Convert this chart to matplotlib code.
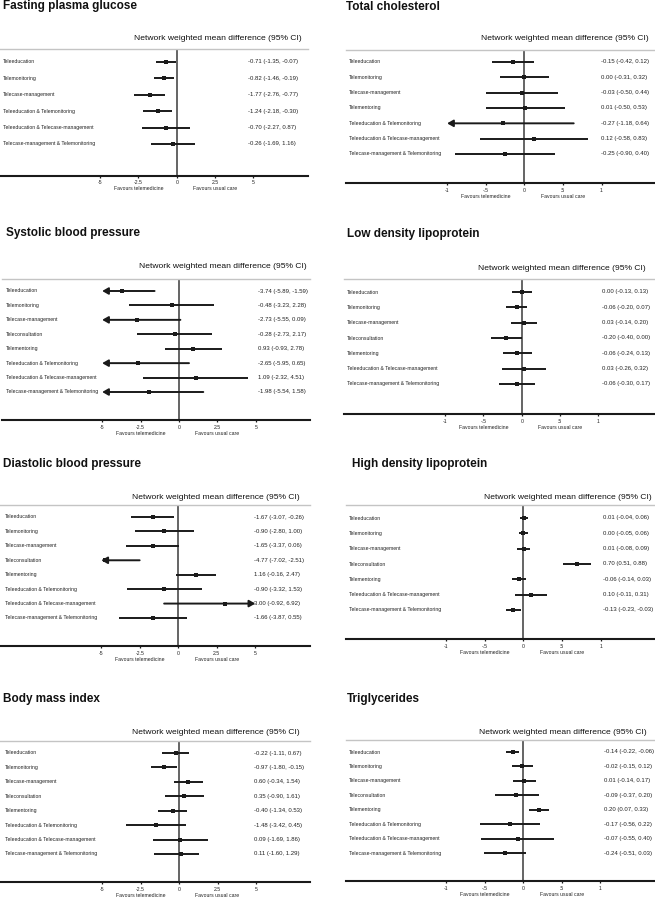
import matplotlib
matplotlib.use('Agg')
import matplotlib.pyplot as plt
from matplotlib.transforms import blended_transform_factory

plt.rcParams['font.family'] = ['Liberation Sans', 'DejaVu Sans']

# ---------------- data ----------------
labels_fpg = ["Teleeducation", "Telemonitoring", "Telecase-management",
              "Teleeducation & Telemonitoring", "Teleeducation & Telecase-management",
              "Telecase-management & Telemonitoring"]
labels_tc = ["Teleeducation", "Telemonitoring", "Telecase-management", "Telementoring",
             "Teleeducation & Telemonitoring", "Teleeducation & Telecase-management",
             "Telecase-management & Telemonitoring"]
labels_eight = ["Teleeducation", "Telemonitoring", "Telecase-management", "Teleconsultation",
                "Telementoring", "Teleeducation & Telemonitoring",
                "Teleeducation & Telecase-management", "Telecase-management & Telemonitoring"]
labels_lipo = ["Teleeducation", "Telemonitoring", "Telecase-management", "Teleconsultation",
               "Telementoring", "Teleeducation & Telecase-management",
               "Telecase-management & Telemonitoring"]

fpg_est = [-0.71, -0.82, -1.77, -1.24, -0.70, -0.26]
fpg_lo = [-1.35, -1.46, -2.76, -2.18, -2.27, -1.69]
fpg_hi = [-0.07, -0.19, -0.77, -0.30, 0.87, 1.16]

tc_est = [-0.15, 0.00, -0.03, 0.01, -0.27, 0.12, -0.25]
tc_lo = [-0.42, -0.31, -0.50, -0.50, -1.18, -0.58, -0.90]
tc_hi = [0.12, 0.32, 0.44, 0.53, 0.64, 0.83, 0.40]

sbp_est = [-3.74, -0.48, -2.73, -0.28, 0.93, -2.65, 1.09, -1.98]
sbp_lo = [-5.89, -3.23, -5.55, -2.73, -0.93, -5.95, -2.32, -5.54]
sbp_hi = [-1.59, 2.28, 0.09, 2.17, 2.78, 0.65, 4.51, 1.58]

ldl_est = [0.00, -0.06, 0.03, -0.20, -0.06, 0.03, -0.06]
ldl_lo = [-0.13, -0.20, -0.14, -0.40, -0.24, -0.26, -0.30]
ldl_hi = [0.13, 0.07, 0.20, 0.00, 0.13, 0.32, 0.17]

dbp_est = [-1.67, -0.90, -1.65, -4.77, 1.16, -0.90, 3.00, -1.66]
dbp_lo = [-3.07, -2.80, -3.37, -7.02, -0.16, -3.32, -0.92, -3.87]
dbp_hi = [-0.26, 1.00, 0.06, -2.51, 2.47, 1.53, 6.92, 0.55]

hdl_est = [0.01, 0.00, 0.01, 0.70, -0.06, 0.10, -0.13]
hdl_lo = [-0.04, -0.05, -0.08, 0.51, -0.14, -0.11, -0.23]
hdl_hi = [0.06, 0.06, 0.09, 0.88, 0.03, 0.31, -0.03]

bmi_est = [-0.22, -0.97, 0.60, 0.35, -0.40, -1.48, 0.09, 0.11]
bmi_lo = [-1.11, -1.80, -0.34, -0.90, -1.34, -3.42, -1.69, -1.60]
bmi_hi = [0.67, -0.15, 1.54, 1.61, 0.53, 0.45, 1.86, 1.29]

tg_est = [-0.14, -0.02, 0.01, -0.09, 0.20, -0.17, -0.07, -0.24]
tg_lo = [-0.22, -0.15, -0.14, -0.37, 0.07, -0.56, -0.55, -0.51]
tg_hi = [-0.06, 0.12, 0.17, 0.20, 0.33, 0.22, 0.40, 0.03]

ticks_wide = [-5, -2.5, 0, 2.5, 5]
ticklabels_wide = ["-5", "-2.5", "0", "2.5", "5"]
ticks_narrow = [-1, -0.5, 0, 0.5, 1]
ticklabels_narrow = ["-1", "-.5", "0", ".5", "1"]

header = "Network weighted mean difference (95% CI)"
favours_left = "Favours telemedicine"
favours_right = "Favours usual care"

# ---------------- layout (pixel positions) ----------------
W, H = 655, 898
fig = plt.figure(figsize=(W / 100, H / 100), dpi=100)

panels = [
    ("Fasting plasma glucose", labels_fpg, fpg_est, fpg_lo, fpg_hi, ticks_wide, ticklabels_wide,
     dict(L=0, R=308, Z=176.7, U=15.35, T=49, B=175.5, r0=62, r1=144, tx=3, ty=6, hx=302, hy=38, lx=3, vx=248)),
    ("Total cholesterol", labels_tc, tc_est, tc_lo, tc_hi, ticks_narrow, ticklabels_narrow,
     dict(L=346, R=655, Z=524.3, U=77.2, T=50, B=183, r0=62, r1=154, tx=346, ty=7, hx=649, hy=38, lx=349, vx=601)),
    ("Systolic blood pressure", labels_eight, sbp_est, sbp_lo, sbp_hi, ticks_wide, ticklabels_wide,
     dict(L=2, R=310, Z=179, U=15.37, T=279, B=420, r0=291, r1=392, tx=6, ty=233, hx=307, hy=267, lx=6, vx=258)),
    ("Low density lipoprotein", labels_lipo, ldl_est, ldl_lo, ldl_hi, ticks_narrow, ticklabels_narrow,
     dict(L=344, R=655, Z=521.7, U=76.7, T=279, B=414, r0=292, r1=384, tx=347, ty=234, hx=646, hy=268, lx=347, vx=602)),
    ("Diastolic blood pressure", labels_eight, dbp_est, dbp_lo, dbp_hi, ticks_wide, ticklabels_wide,
     dict(L=0, R=310, Z=178.3, U=15.4, T=505, B=646, r0=517, r1=618, tx=3, ty=464, hx=300, hy=497, lx=5, vx=254)),
    ("High density lipoprotein", labels_lipo, hdl_est, hdl_lo, hdl_hi, ticks_narrow, ticklabels_narrow,
     dict(L=346, R=655, Z=523.3, U=77.3, T=505, B=639, r0=518, r1=610, tx=352, ty=464, hx=652, hy=497, lx=349, vx=603)),
    ("Body mass index", labels_eight, bmi_est, bmi_lo, bmi_hi, ticks_wide, ticklabels_wide,
     dict(L=0, R=310, Z=179, U=15.4, T=741, B=882, r0=753, r1=854, tx=3, ty=699, hx=300, hy=732, lx=5, vx=254)),
    ("Triglycerides", labels_eight, tg_est, tg_lo, tg_hi, ticks_narrow, ticklabels_narrow,
     dict(L=346, R=655, Z=523.3, U=77.0, T=740, B=881, r0=752, r1=853, tx=347, ty=699, hx=647, hy=732, lx=349, vx=604)),
]

LINE = '#1a1a1a'
for title, labels, est, lo, hi, ticks, ticklabels, g in panels:
    L, R, Z, U, T, B = g['L'], g['R'], g['Z'], g['U'], g['T'], g['B']
    ax = fig.add_axes([L / W, 1 - B / H, (R - L) / W, (B - T) / H])
    n = len(labels)
    s = (g['r1'] - g['r0']) / (n - 1)
    ax.set_xlim((L - Z) / U, (R - Z) / U)
    ax.set_ylim((n - 1) + (B - g['r1']) / s, -(g['r0'] - T) / s)
    for side in ('left', 'right'):
        ax.spines[side].set_visible(False)
    ax.spines['top'].set_color('#c4c4c4')
    ax.spines['top'].set_linewidth(1.0)
    ax.spines['bottom'].set_color(LINE)
    ax.spines['bottom'].set_linewidth(1.5)
    ax.set_yticks([])
    ax.set_xticks(ticks)
    ax.set_xticklabels(ticklabels)
    ax.tick_params(axis='x', length=1.6, width=0.9, pad=2.0, labelsize=3.7, color=LINE,
                   labelcolor='#222222')
    ax.axvline(0, color='#4a4a4a', lw=1.2, zorder=1)

    tmin, tmax = ticks[0], ticks[-1]
    trans = blended_transform_factory(fig.transFigure, ax.transData)
    for i in range(n):
        a = max(lo[i], tmin)
        b = min(hi[i], tmax)
        left_clip = lo[i] < tmin
        right_clip = hi[i] > tmax
        if left_clip or right_clip:
            if left_clip and right_clip:
                style, xy, xyt = '<|-|>', (a, i), (b, i)
            elif left_clip:
                style, xy, xyt = '-|>', (a, i), (b, i)
            else:
                style, xy, xyt = '-|>', (b, i), (a, i)
            ax.annotate('', xy=xy, xytext=xyt,
                        arrowprops=dict(arrowstyle=style + ',head_length=0.35,head_width=0.2',
                                        color=LINE, lw=1.4, shrinkA=0, shrinkB=0), zorder=3)
        else:
            ax.plot([a, b], [i, i], color=LINE, lw=1.4, solid_capstyle='butt', zorder=3)
        ax.plot([est[i]], [i], marker='s', ms=2.4, color=LINE, mew=0, zorder=4)
        ax.text(g['lx'] / W, i, labels[i], transform=trans, fontsize=3.7, va='center',
                ha='left', color='#222222')
        ax.text(g['vx'] / W, i, f"{est[i]:.2f} ({lo[i]:.2f}, {hi[i]:.2f})", transform=trans,
                fontsize=4.3, va='center', ha='left', color='#222222')

    ax.annotate(favours_left, xy=(tmin / 2, 0), xycoords=('data', 'axes fraction'),
                xytext=(0, -9.4), textcoords='offset points', ha='center', va='center',
                fontsize=3.7, color='#222222')
    ax.annotate(favours_right, xy=(tmax / 2, 0), xycoords=('data', 'axes fraction'),
                xytext=(0, -9.4), textcoords='offset points', ha='center', va='center',
                fontsize=3.7, color='#222222')

    fig.text(g['hx'] / W, 1 - g['hy'] / H, header, ha='right', va='center', fontsize=6.1,
             color='#111111')
    fig.text(g['tx'] / W, 1 - g['ty'] / H, title, ha='left', va='center', fontsize=8.5,
             fontweight='bold', color='#111111')

fig.savefig('out.png', dpi=100, facecolor='white')
